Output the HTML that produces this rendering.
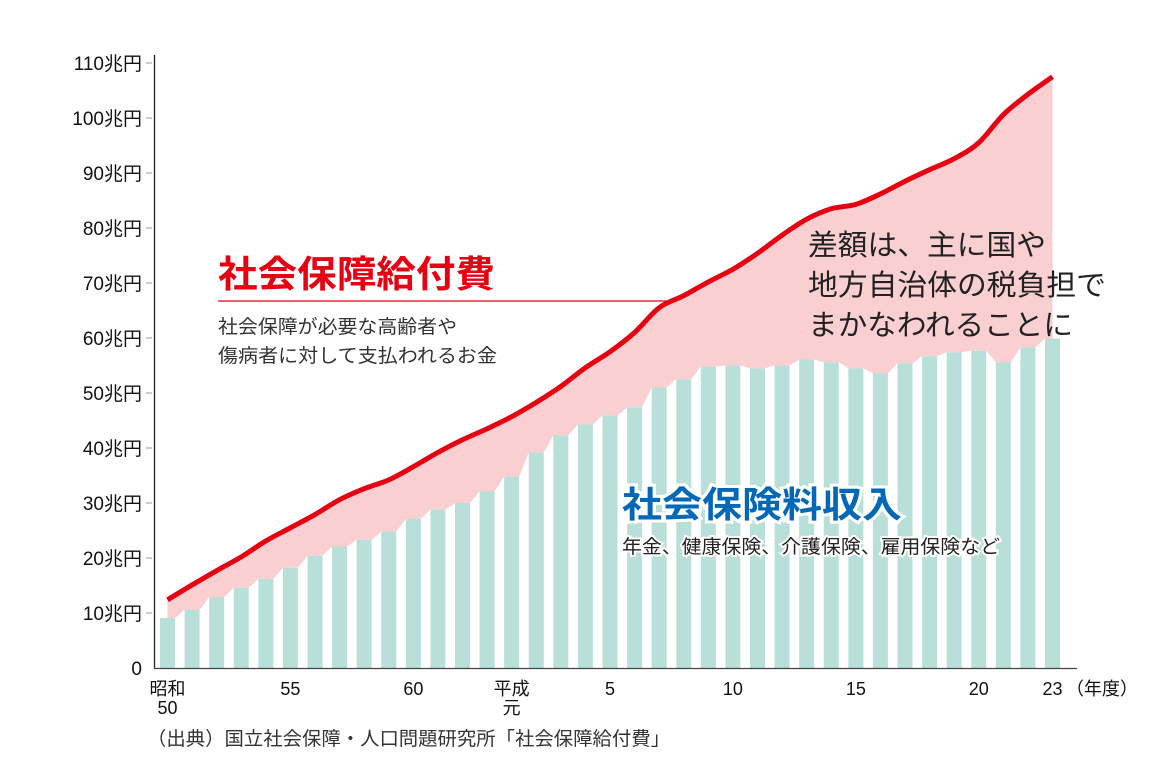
<!DOCTYPE html>
<html><head><meta charset="utf-8">
<style>
html,body{margin:0;padding:0;background:#fff;}
svg{display:block;font-family:"Liberation Sans","Noto Sans CJK JP",sans-serif;}
</style></head>
<body>
<svg id="chart" width="1165" height="777" viewBox="0 0 1165 777" xmlns="http://www.w3.org/2000/svg">
<g id="fillLayer"></g>
<g id="barLayer"></g>
<g id="lineLayer"></g>
<g id="axisLayer"></g>
<g id="labels">
  <text x="218" y="287" font-size="37" font-weight="bold" fill="#e60012" textLength="277" lengthAdjust="spacingAndGlyphs">社会保障給付費</text>
  <line x1="218" y1="301" x2="667" y2="301" stroke="#e60012" stroke-width="1.2"/>
  <text x="218" y="333" font-size="19" fill="#333" textLength="239" lengthAdjust="spacingAndGlyphs">社会保障が必要な高齢者や</text>
  <text x="218" y="362" font-size="19" fill="#333" textLength="279" lengthAdjust="spacingAndGlyphs">傷病者に対して支払われるお金</text>
  <text x="808" y="255" font-size="29" fill="#222" textLength="238" lengthAdjust="spacingAndGlyphs">差額は、主に国や</text>
  <text x="808" y="295" font-size="29" fill="#222" textLength="298" lengthAdjust="spacingAndGlyphs">地方自治体の税負担で</text>
  <text x="808" y="335" font-size="29" fill="#222" textLength="265" lengthAdjust="spacingAndGlyphs">まかなわれることに</text>
  <text x="622" y="517" font-size="36" font-weight="bold" fill="#0068b7" stroke="#fff" stroke-width="6" paint-order="stroke" textLength="280" lengthAdjust="spacingAndGlyphs">社会保険料収入</text>
  <text x="622" y="553" font-size="19" fill="#222" stroke="#fff" stroke-width="4" paint-order="stroke" textLength="378" lengthAdjust="spacingAndGlyphs">年金、健康保険、介護保険、雇用保険など</text>
  <text x="147" y="745" font-size="19" fill="#333" textLength="523" lengthAdjust="spacingAndGlyphs">（出典）国立社会保障・人口問題研究所「社会保障給付費」</text>
</g>
</svg>
<script>
const years = ["S50","S51","S52","S53","S54","S55","S56","S57","S58","S59","S60","S61","S62","S63","H1","H2","H3","H4","H5","H6","H7","H8","H9","H10","H11","H12","H13","H14","H15","H16","H17","H18","H19","H20","H21","H22","H23"];
const benefits = [12.4,15.1,17.7,20.2,23.1,25.5,27.9,30.6,32.6,34.2,36.6,39.2,41.5,43.5,45.7,48.3,51.2,54.6,57.5,61.0,65.5,67.7,70.2,72.5,75.4,78.7,81.6,83.5,84.3,86.2,88.5,90.6,92.6,95.5,100.6,104.3,107.5];
const premiums = [9.1,10.6,12.9,14.6,16.2,18.2,20.4,22.1,23.3,24.8,27.1,28.8,30.0,32.1,34.8,39.2,42.3,44.3,45.9,47.4,51.0,52.5,54.8,55.0,54.5,55.0,56.1,55.6,54.5,53.6,55.4,56.7,57.4,57.7,55.6,58.3,59.9];
const yTicks = [0,10,20,30,40,50,60,70,80,90,100,110];
const yTickLabels = ["0","10兆円","20兆円","30兆円","40兆円","50兆円","60兆円","70兆円","80兆円","90兆円","100兆円","110兆円"];
const xLabelIdx = [0,5,10,14,18,23,28,33,36];
const xLabelText = [["昭和","50"],["55"],["60"],["平成","元"],["5"],["10"],["15"],["20"],["23"]];

const NS="http://www.w3.org/2000/svg";
const X0=167.5, STEP=(1052.5-167.5)/36, Y0=668, PPU=5.5, BW=15;
const xs=i=>X0+i*STEP;
const ys=v=>Y0-v*PPU;
function mk(tag,attrs,parent){const e=document.createElementNS(NS,tag);for(const k in attrs)e.setAttribute(k,attrs[k]);parent.appendChild(e);return e;}

// smooth path through points (Catmull-Rom)
function smooth(p){
  let d='M'+p[0][0]+','+p[0][1];
  for(let i=0;i<p.length-1;i++){
    const p0=p[i-1]||p[i],p1=p[i],p2=p[i+1],p3=p[i+2]||p2;
    const c1x=p1[0]+(p2[0]-p0[0])/6,c1y=p1[1]+(p2[1]-p0[1])/6;
    const c2x=p2[0]-(p3[0]-p1[0])/6,c2y=p2[1]-(p3[1]-p1[1])/6;
    d+=' C'+c1x+','+c1y+' '+c2x+','+c2y+' '+p2[0]+','+p2[1];
  }
  return d;
}
const linePts=benefits.map((v,i)=>[xs(i),ys(v)]);
const lineD=smooth(linePts);

// fill between line and bar tops
const fillG=document.getElementById('fillLayer');
let back='';
const n=premiums.length;
for(let i=n-1;i>=0;i--){
  const r=Math.min(xs(i)+BW/2,xs(n-1)), l=Math.max(xs(i)-BW/2,xs(0));
  back+=' L'+r+','+ys(premiums[i])+' L'+l+','+ys(premiums[i]);
}
const fp=mk('path',{d:lineD+back+' Z',fill:'#f9cfd1'},fillG);



const barG=document.getElementById('barLayer');
premiums.forEach((v,i)=>{
  const r=mk('rect',{x:xs(i)-BW/2,y:ys(v),width:BW,height:Y0-ys(v),fill:'#b9dfd9'},barG);
  
  
});

const lineG=document.getElementById('lineLayer');
const pl=mk('path',{d:lineD,fill:'none',stroke:'#e60012','stroke-width':5,'stroke-linejoin':'round'},lineG);



const axG=document.getElementById('axisLayer');
const ya=mk('line',{x1:154.5,y1:55,x2:154.5,y2:Y0,stroke:'#222','stroke-width':1.3},axG);


const xa=mk('line',{x1:154,y1:Y0+0.5,x2:1077,y2:Y0+0.5,stroke:'#444','stroke-width':1.3},axG);


yTicks.forEach((v,i)=>{
  if(v>0){const t=mk('line',{x1:146,y1:ys(v),x2:152,y2:ys(v),stroke:'#999','stroke-width':1},axG);
  
  }
  const tx=mk('text',{x:142,y:ys(v)+7,'text-anchor':'end','font-size':19,fill:'#111'},axG);
  tx.textContent=yTickLabels[i];
  
  
});
xLabelIdx.forEach((idx,k)=>{
  xLabelText[k].forEach((s,j)=>{
    const tx=mk('text',{x:xs(idx),y:695+j*19,'text-anchor':'middle','font-size':18,fill:'#111'},axG);
    tx.textContent=s;
    
    
  });
});
const unit=mk('text',{x:1066,y:695,'font-size':18,fill:'#111'},axG);
unit.textContent='（年度）';


</script>
</body></html>
